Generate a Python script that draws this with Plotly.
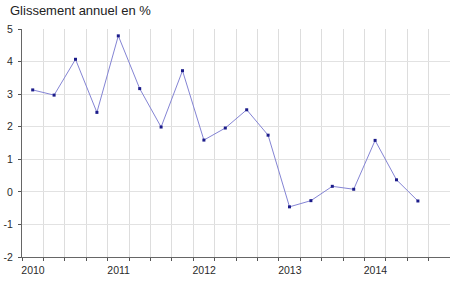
import plotly.graph_objects as go

years = ["2010", "2011", "2012", "2013", "2014"]
values = [3.13, 2.97, 4.07, 2.44, 4.79, 3.17, 1.99, 3.72, 1.59, 1.96, 2.52,
          1.74, -0.46, -0.27, 0.17, 0.08, 1.58, 0.37, -0.28]
y_ticks = [-2, -1, 0, 1, 2, 3, 4, 5]
y_labels = ["-2", "-1", "0", "1", "2", "3", "4", "5"]

n_quarters = 20
x = [i + 0.5 for i in range(len(values))]

fig = go.Figure()
fig.add_trace(go.Scatter(
    x=x, y=values, mode="lines+markers",
    line=dict(color="#8484d4", width=1),
    marker=dict(color="#1c1c8a", size=3, symbol="square"),
    hoverinfo="skip",
))

fig.update_layout(
    width=450, height=291,
    margin=dict(l=22, r=0, t=29, b=34),
    paper_bgcolor="white", plot_bgcolor="white",
    showlegend=False,
    font=dict(family="Liberation Sans, Arial, sans-serif", size=10, color="#333333"),
    xaxis=dict(
        range=[0, n_quarters],
        tickvals=[0, 4, 8, 12, 16],
        ticktext=years,
        ticklabelshift=11,
        ticks="outside", ticklen=3, tickcolor="#555555",
        showgrid=True, gridcolor="#dddddd", gridwidth=1,
        minor=dict(dtick=1, tick0=0, showgrid=True, gridcolor="#dddddd",
                   ticks="outside", ticklen=3, tickcolor="#555555"),
        showline=True, linecolor="#666666", linewidth=1,
        zeroline=False, fixedrange=True,
        tickfont=dict(size=10.5, color="#2a2a2a"),
    ),
    yaxis=dict(
        range=[-2, 5],
        tickvals=y_ticks,
        ticktext=y_labels,
        ticks="outside", ticklen=3, tickcolor="#555555",
        showgrid=True, gridcolor="#e2e2e2", gridwidth=1,
        showline=True, linecolor="#666666", linewidth=1,
        zeroline=False, fixedrange=True,
        tickfont=dict(size=10.5, color="#2a2a2a"),
        ticklabelstandoff=3,
    ),
    annotations=[dict(
        text="Glissement annuel en %", xref="paper", yref="paper",
        x=-14 / 428, y=1, xanchor="left", yanchor="bottom", yshift=9,
        showarrow=False, font=dict(size=13, color="#222222"),
    )],
)

fig.write_html("out.html")
